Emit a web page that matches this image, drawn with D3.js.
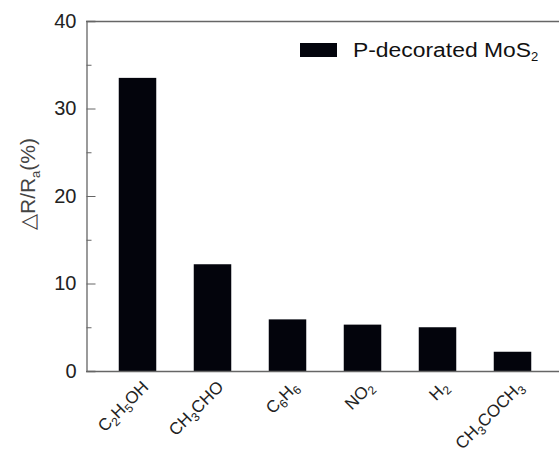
<!DOCTYPE html>
<html><head><meta charset="utf-8">
<script src="https://cdn.jsdelivr.net/npm/d3@7"></script>
<style>body{margin:0;background:#fff}svg{display:block}text{font-family:Arial,"Liberation Sans",sans-serif}</style>
</head><body><svg id="c" width="559" height="454"></svg>
<script>
const categories = ["C2H5OH","CH3CHO","C6H6","NO2","H2","CH3COCH3"];
const labelParts = [
  [["C",0],["2",1],["H",0],["5",1],["OH",0]],
  [["CH",0],["3",1],["CHO",0]],
  [["C",0],["6",1],["H",0],["6",1]],
  [["NO",0],["2",1]],
  [["H",0],["2",1]],
  [["CH",0],["3",1],["COCH",0],["3",1]]
];
const values = [33.5, 12.2, 5.9, 5.3, 5.0, 2.2];
const yMajorTicks = [0,10,20,30,40];
const yMinorTicks = [5,15,25,35];
const seriesName = "P-decorated MoS";

const svg = d3.select("#c");
const mLeft = 86, mTop = 21, mBottom = 371, mRight = 559;
const x = d3.scaleBand().domain(categories).range([100,550]).paddingInner(0.5).paddingOuter(0.25);
const y = d3.scaleLinear().domain([0,40]).range([mBottom, mTop]);
const axisColor = "#666";
const barColor = "#03040c";

// bars
svg.selectAll("rect.bar").data(values).enter().append("rect")
  .attr("x",(d,i)=>x(categories[i])).attr("width",x.bandwidth())
  .attr("y",d=>y(d)).attr("height",d=>mBottom-y(d)).attr("fill",barColor);

// frame lines
svg.append("line").attr("x1",mLeft).attr("x2",mRight).attr("y1",mTop+0.5).attr("y2",mTop+0.5).attr("stroke",axisColor).attr("stroke-width",1.3);
svg.append("line").attr("x1",mLeft).attr("x2",mRight).attr("y1",mBottom+0.5).attr("y2",mBottom+0.5).attr("stroke",axisColor).attr("stroke-width",1.3);

// y axis
const yAxis = d3.axisLeft(y).tickValues(yMajorTicks).tickSize(-9).tickPadding(10).tickFormat(d3.format("d"));
const ga = svg.append("g").attr("transform",`translate(${mLeft+0.5},0)`).call(yAxis);
ga.select(".domain").attr("stroke",axisColor).attr("stroke-width",1.3);
ga.selectAll(".tick line").attr("stroke",axisColor);
ga.selectAll(".tick text").attr("font-size",20).attr("fill","#222").attr("font-family","Arial,'Liberation Sans',sans-serif");
const yMinor = d3.axisLeft(y).tickValues(yMinorTicks).tickSize(-5).tickFormat("");
const gm = svg.append("g").attr("transform",`translate(${mLeft+0.5},0)`).call(yMinor);
gm.select(".domain").remove();
gm.selectAll(".tick line").attr("stroke",axisColor);

// y label
const yl = svg.append("text").attr("transform",`translate(35,${(mTop+mBottom)/2 - 12}) rotate(-90)`)
  .attr("text-anchor","middle").attr("font-size",21).attr("fill","#444");
yl.append("tspan").text("\u25B3R/R");
yl.append("tspan").text("a").attr("font-size",13).attr("dy",5);
yl.append("tspan").text("(%)").attr("dy",-5);

// x labels
categories.forEach((c,i)=>{
  const cx = x(c) + x.bandwidth()/2 + 12;
  const t = svg.append("text").attr("transform",`translate(${cx},${mBottom+17}) rotate(-45)`)
    .attr("text-anchor","end").attr("font-size",17).attr("fill","#222");
  let sub = false;
  labelParts[i].forEach(([s,isSub])=>{
    const ts = t.append("tspan").text(s);
    if(isSub && !sub){ts.attr("font-size",12).attr("dy",4); sub=true;}
    else if(!isSub && sub){ts.attr("dy",-4); sub=false;}
    else if(isSub){ts.attr("font-size",12);}
  });
});

// legend
svg.append("rect").attr("x",300).attr("y",43).attr("width",37).attr("height",14).attr("fill",barColor);
const lt = svg.append("text").attr("x",353).attr("y",57).attr("font-size",20).attr("fill","#111");
lt.append("tspan").text(seriesName).attr("textLength",178).attr("lengthAdjust","spacingAndGlyphs");
lt.append("tspan").text("2").attr("font-size",13).attr("dy",4);
</script></body></html>
